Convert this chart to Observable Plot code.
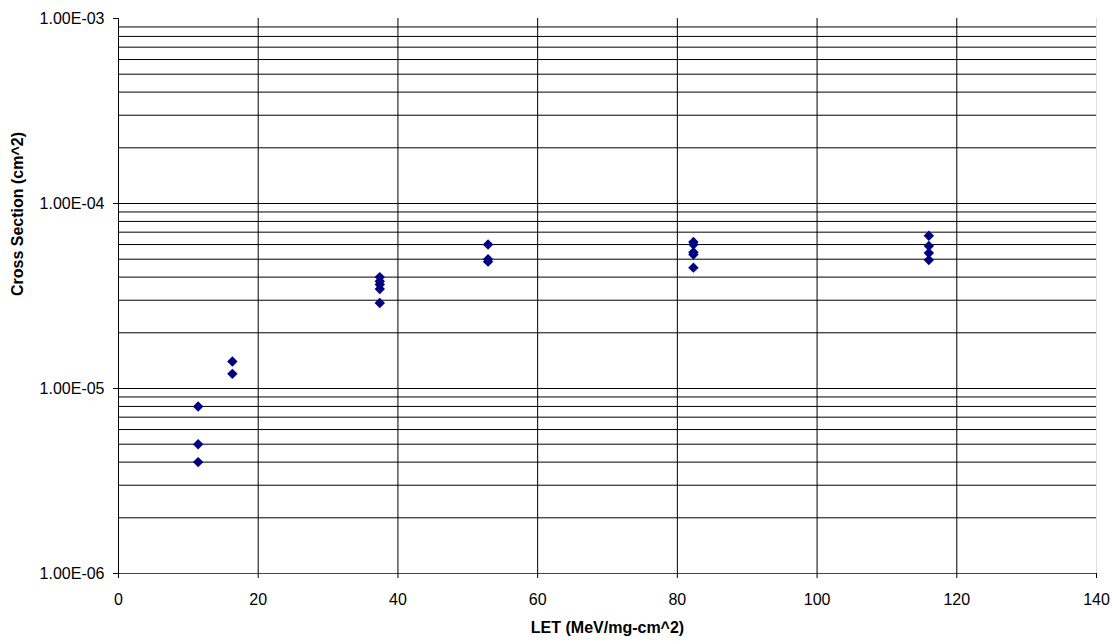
<!DOCTYPE html>
<html>
<head>
<meta charset="utf-8">
<script src="https://cdn.jsdelivr.net/npm/d3@7"></script>
<script src="https://cdn.jsdelivr.net/npm/@observablehq/plot@0.6"></script>
<style>
  html, body { margin: 0; padding: 0; background: #fff; }
  #chart svg { display: block; }
</style>
</head>
<body>
<div id="chart"></div>
<script>
// LET (MeV/mg-cm^2) of each measurement
const letValues = [
  11.4, 11.4, 11.4,
  16.3, 16.3,
  37.4, 37.4, 37.4, 37.4, 37.4,
  52.9, 52.9, 52.9,
  82.3, 82.3, 82.3, 82.3, 82.3,
  116, 116, 116, 116
];
// Cross section (cm^2)
const crossSection = [
  8.0e-6, 5.0e-6, 4.0e-6,
  1.4e-5, 1.2e-5,
  4.0e-5, 3.8e-5, 3.65e-5, 3.45e-5, 2.9e-5,
  6.0e-5, 5.0e-5, 4.85e-5,
  6.2e-5, 6.0e-5, 5.45e-5, 5.3e-5, 4.5e-5,
  6.7e-5, 5.9e-5, 5.4e-5, 4.95e-5
];
const xTicks = [0, 20, 40, 60, 80, 100, 120, 140];
const xGrid = [20, 40, 60, 80, 100, 120];
const yTicks = [1e-6, 1e-5, 1e-4, 1e-3];
const yGrid = [];
for (const p of [-6, -5, -4]) for (let m = 2; m <= 9; m++) yGrid.push(m * Math.pow(10, p));
yGrid.push(1e-5, 1e-4);
const xTitle = "LET (MeV/mg-cm^2)";
const yTitle = "Cross Section (cm^2)";

const points = letValues.map((x, i) => ({x, y: crossSection[i]}));

const fmtE = d => {
  const [m, e] = d.toExponential(2).split("e");
  const n = +e;
  return m + "E" + (n < 0 ? "-" : "+") + String(Math.abs(n)).padStart(2, "0");
};

const chart = Plot.plot({
  width: 1112,
  height: 644,
  marginLeft: 118,
  marginRight: 16,
  marginTop: 18,
  marginBottom: 71,
  style: {fontFamily: "'Liberation Sans', Arial, sans-serif", fontSize: "16px", color: "#000", background: "#fff"},
  x: {type: "linear", domain: [0, 140]},
  y: {type: "log", domain: [1e-6, 1e-3]},
  marks: [
    Plot.ruleY(yGrid, {stroke: "#000", strokeWidth: 1}),
    Plot.ruleX(xGrid, {stroke: "#000", strokeWidth: 1}),
    Plot.ruleX([140], {stroke: "#ddd", strokeWidth: 1}),
    Plot.ruleX([0], {stroke: "#000", strokeWidth: 1}),
    Plot.ruleY([1e-6], {stroke: "#444", strokeWidth: 1}),
    Plot.axisX({ticks: xTicks, tickSize: 5, tickPadding: 15, tickFormat: d => String(d), label: null, fontSize: 16}),
    Plot.axisY({ticks: yTicks, tickSize: 5, tickPadding: 9, tickFormat: fmtE, label: null, fontSize: 16}),
    Plot.dot(points, {x: "x", y: "y", symbol: "diamond2", r: 4.7, fill: "#000080", stroke: "none"}),
    Plot.text([xTitle], {frameAnchor: "bottom", dy: 59, fontWeight: "bold", fontSize: 16, fill: "#000"}),
    Plot.text([yTitle], {frameAnchor: "left", dx: -101, rotate: -90, fontWeight: "bold", fontSize: 16, fill: "#000"})
  ]
});
document.getElementById("chart").appendChild(chart);
</script>
</body>
</html>
